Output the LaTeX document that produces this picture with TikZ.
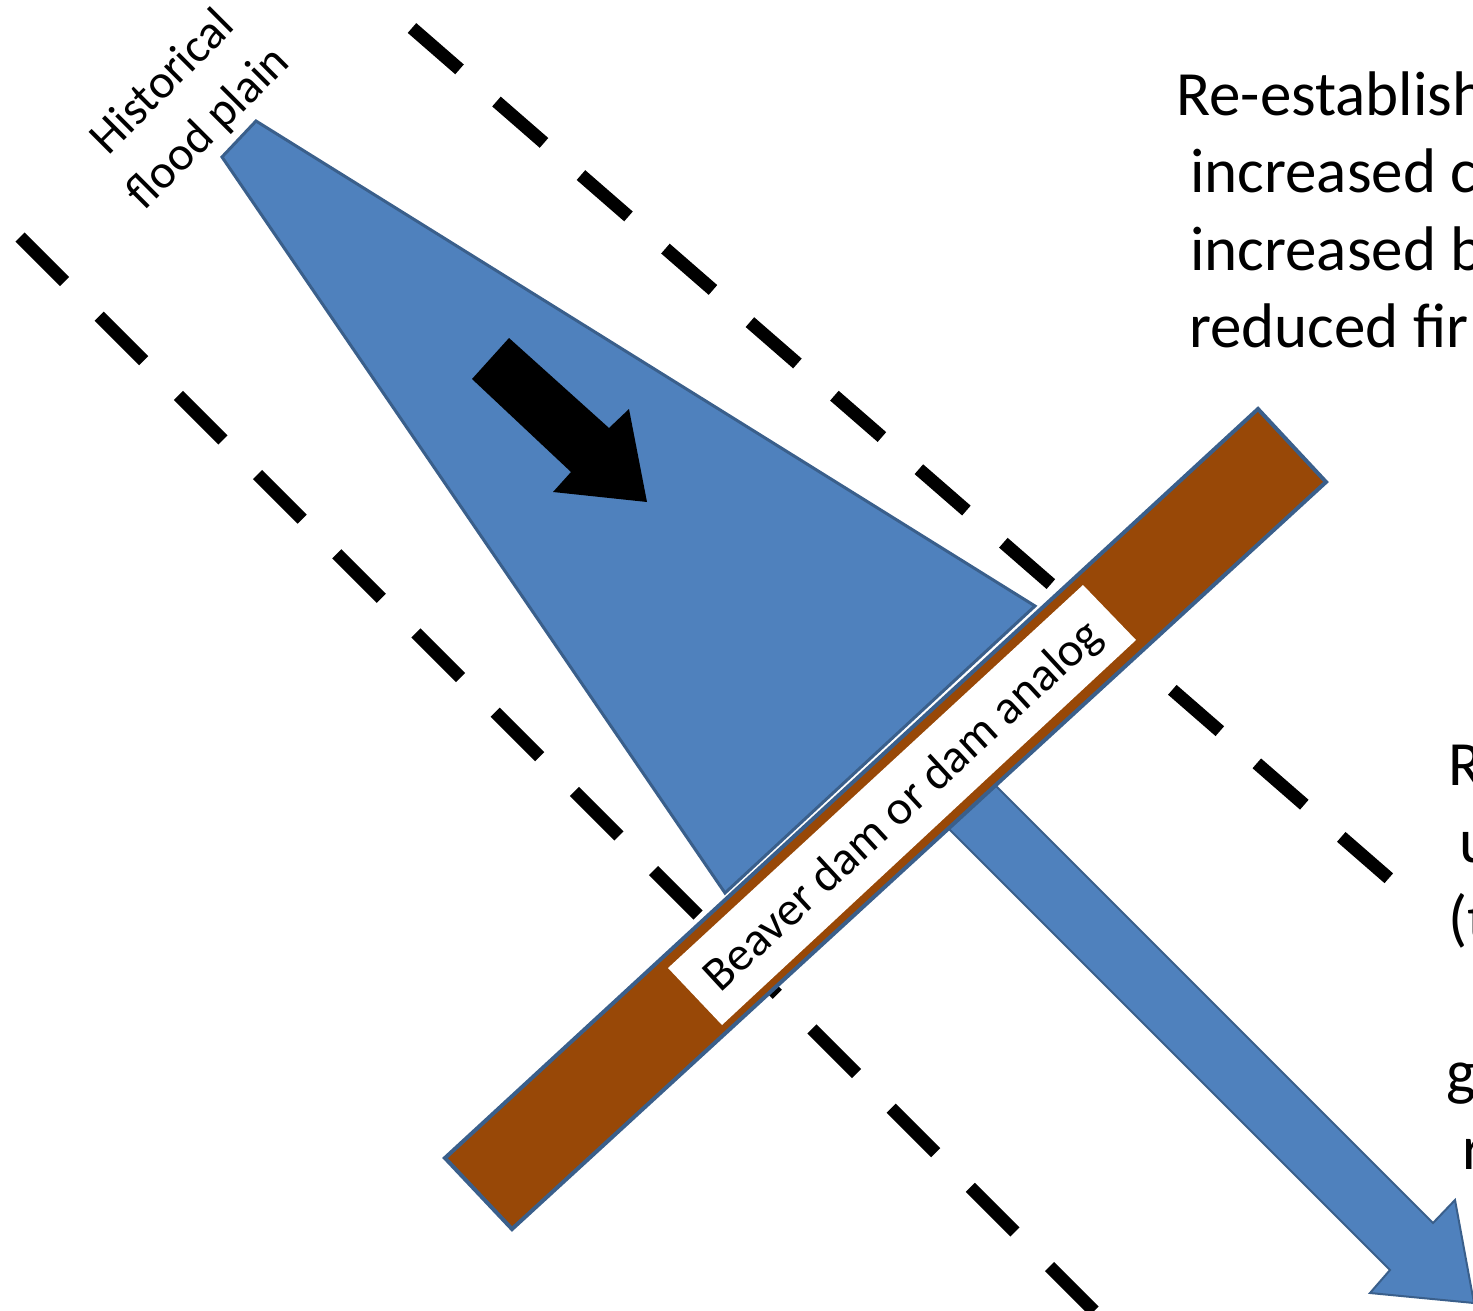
\documentclass[tikz,border=0pt]{standalone}
\usepackage{fontspec}
\setmainfont{Carlito}
\definecolor{water}{HTML}{4F81BD}
\definecolor{waterline}{HTML}{3A5F8B}
\definecolor{damfill}{HTML}{984807}
\tikzset{
  dashline/.style={line width=13pt, dash pattern=on 63pt off 49pt, black},
  waterpoly/.style={fill=water, draw=waterline, line width=3pt, line join=miter},
  dampoly/.style={fill=damfill, draw=waterline, line width=4pt, line join=miter},
  bigtext/.style={font=\fontsize{63}{77}\selectfont, anchor=base west, inner sep=0pt},
  midtext/.style={font=\fontsize{48}{64}\selectfont, inner sep=0pt},
}
\begin{document}
\begin{tikzpicture}[x=1pt,y=-1pt]
\useasboundingbox (0,0) rectangle (1473,1311);
\clip (0,0) rectangle (1473,1311);
% dashed boundaries of the historical flood plain
\draw[dashline] (412,28) -- (1400,888);
\draw[dashline] (20,237) -- (1125,1342);
% flood plain water
\draw[waterpoly] (222,157) -- (256,121) -- (1035,606) -- (725,893) -- cycle;
% black flow arrow
\fill[black] (472,379) -- (509,338) -- (609,428) -- (629,409) -- (647,502) -- (553,492) -- (571,472) -- cycle;
% outflow arrow
\draw[fill=water, draw=waterline, line width=2pt] (983,773) -- (1433,1223) -- (1455,1200) -- (1474,1303) -- (1370,1293) -- (1390,1270) -- (940,820) -- cycle;
% dam
\draw[dampoly] (445,1158) -- (512,1229) -- (1326,482) -- (1258,409) -- cycle;
\fill[white] (668,968) -- (722,1025) -- (1136,640) -- (1083,585) -- cycle;
\node[midtext, rotate=42.7] (damlabel) at (904,807) {Beaver dam or dam analog};
% flood plain label
\node[midtext, rotate=45, align=center] (hist) at (186,106) {Historical\\flood plain};
% right texts (cut by the frame)
\node[bigtext] (t1a) at (1176,116) {Re-establish};
\node[bigtext] (t1b) at (1190,193) {increased c};
\node[bigtext] (t1c) at (1190,270) {increased b};
\node[bigtext] (t1d) at (1189,347) {reduced fir};
\node[bigtext] (t2a) at (1448,785) {R};
\node[bigtext] (t2b) at (1459,862) {u};
\node[bigtext] (t2c) at (1448,939) {(t};
\node[bigtext] (t2e) at (1446,1093) {g};
\node[bigtext] (t2f) at (1462,1169) {r};
\end{tikzpicture}
\end{document}
